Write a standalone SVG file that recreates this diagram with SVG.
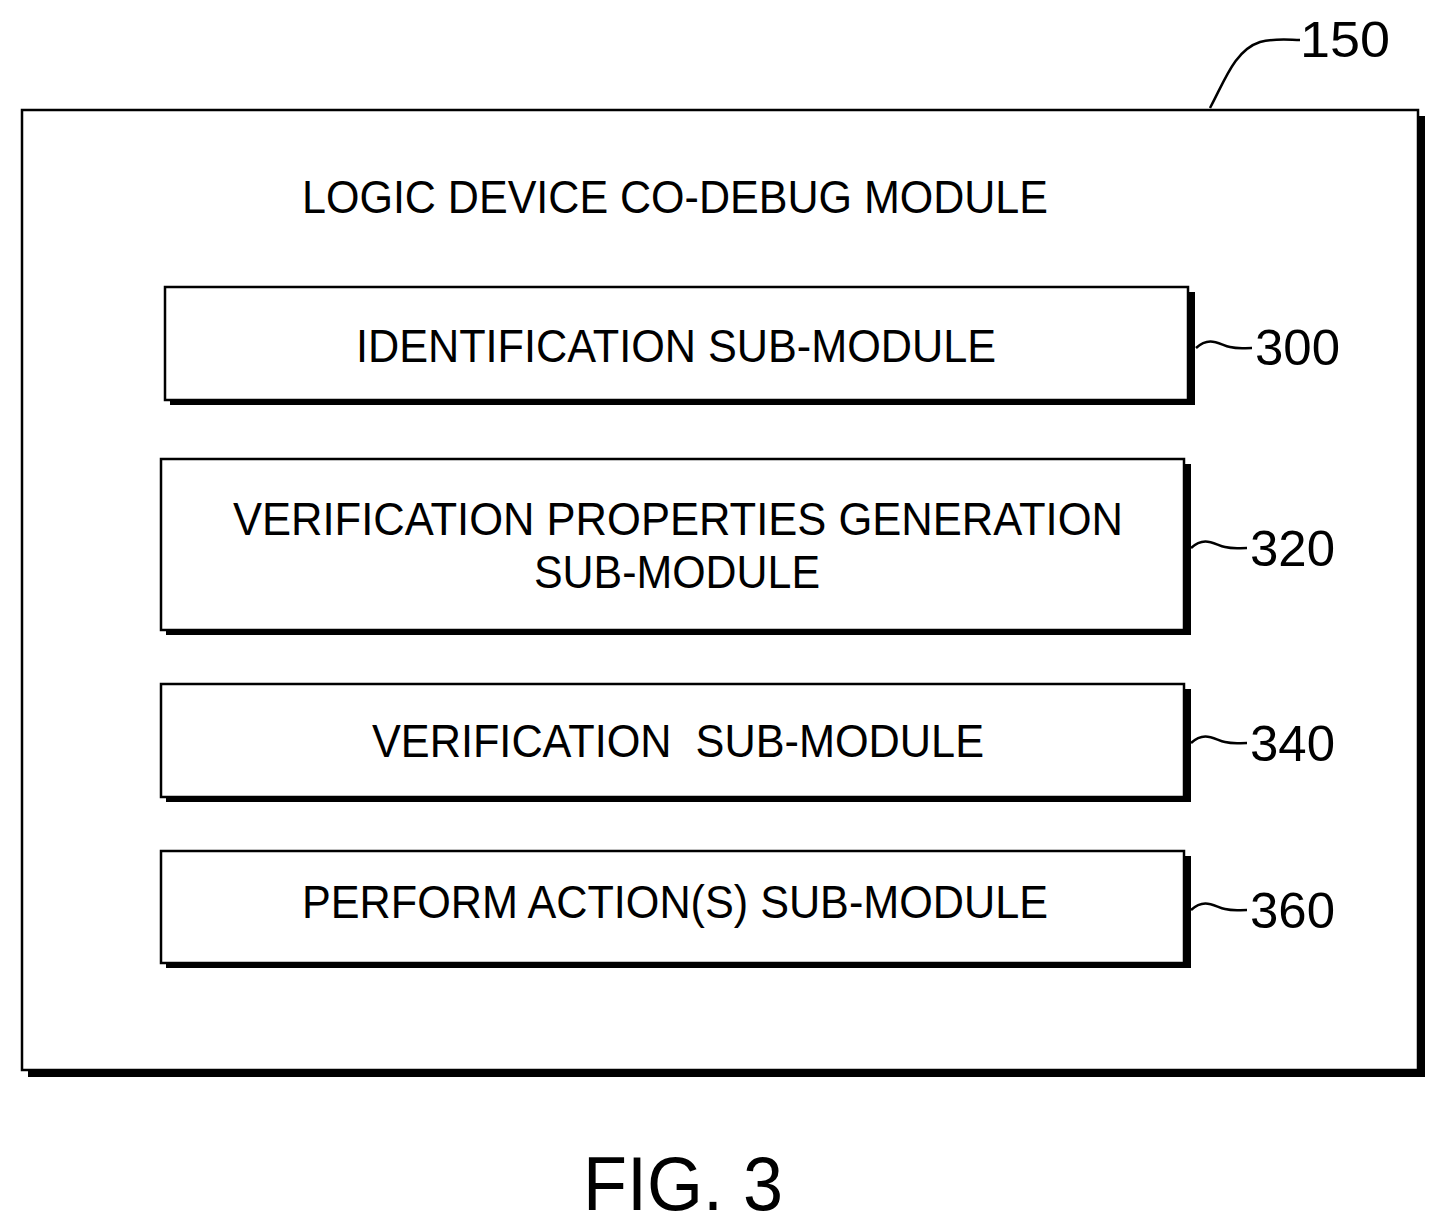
<svg xmlns="http://www.w3.org/2000/svg" width="1446" height="1231" viewBox="0 0 1446 1231">
<style>
.box{fill:#fff;stroke:#000;stroke-width:2.5}
.sh{fill:#000}
.t{font-family:"Liberation Sans",Arial,sans-serif;font-size:46px;fill:#000}
.n{font-family:"Liberation Sans",Arial,sans-serif;font-size:50px;fill:#000}
.fig{font-family:"Liberation Sans",Arial,sans-serif;font-size:76px;fill:#000}
.lead{fill:none;stroke:#000;stroke-width:2.5}
</style>
<rect width="1446" height="1231" fill="#fff"/>
<g id="module150">
<rect class="sh" x="28" y="116" width="1397" height="961"/>
<rect class="box" x="22" y="110" width="1396" height="960"/>
<text class="t" x="302" y="213" textLength="746" lengthAdjust="spacingAndGlyphs">LOGIC DEVICE CO-DEBUG MODULE</text>
</g>
<g id="n300">
<rect class="sh" x="170" y="292" width="1025" height="113"/>
<rect class="box" x="165" y="287" width="1023" height="113"/>
<text class="t" x="356" y="362" textLength="640" lengthAdjust="spacingAndGlyphs">IDENTIFICATION SUB-MODULE</text>
</g>
<g id="n320">
<rect class="sh" x="166" y="464" width="1025" height="171"/>
<rect class="box" x="161" y="459" width="1023" height="171"/>
<text class="t" x="233" y="535" textLength="890" lengthAdjust="spacingAndGlyphs">VERIFICATION PROPERTIES GENERATION</text>
<text class="t" x="534" y="588" textLength="286" lengthAdjust="spacingAndGlyphs">SUB-MODULE</text>
</g>
<g id="n340">
<rect class="sh" x="166" y="689" width="1025" height="113"/>
<rect class="box" x="161" y="684" width="1023" height="113"/>
<text class="t" x="372" y="757" textLength="612" lengthAdjust="spacingAndGlyphs" xml:space="preserve">VERIFICATION  SUB-MODULE</text>
</g>
<g id="n360">
<rect class="sh" x="166" y="856" width="1025" height="112"/>
<rect class="box" x="161" y="851" width="1023" height="112"/>
<text class="t" x="302" y="918" textLength="746" lengthAdjust="spacingAndGlyphs">PERFORM ACTION(S) SUB-MODULE</text>
</g>
<g id="connectors">
<path class="lead" d="M1210,108 C1225,80 1235,50 1260,42 C1275,38 1290,40 1300,40"/>
<path class="lead" d="M1196,348 C1210,335 1220,345 1230,347 C1238,349 1243,348 1252,348"/>
<path class="lead" d="M1191,548 C1205,535 1215,545 1225,547 C1233,549 1238,548 1247,548"/>
<path class="lead" d="M1191,743 C1205,730 1215,740 1225,742 C1233,744 1238,743 1247,743"/>
<path class="lead" d="M1191,910 C1205,897 1215,907 1225,909 C1233,911 1238,910 1247,910"/>
</g>
<g id="labels">
<text class="n" x="1300" y="57" textLength="90" lengthAdjust="spacingAndGlyphs">150</text>
<text class="n" x="1255" y="365" textLength="85" lengthAdjust="spacingAndGlyphs">300</text>
<text class="n" x="1250" y="566" textLength="85" lengthAdjust="spacingAndGlyphs">320</text>
<text class="n" x="1250" y="761" textLength="85" lengthAdjust="spacingAndGlyphs">340</text>
<text class="n" x="1250" y="928" textLength="85" lengthAdjust="spacingAndGlyphs">360</text>
<text class="fig" x="583" y="1210" textLength="200" lengthAdjust="spacingAndGlyphs">FIG. 3</text>
</g>
</svg>
